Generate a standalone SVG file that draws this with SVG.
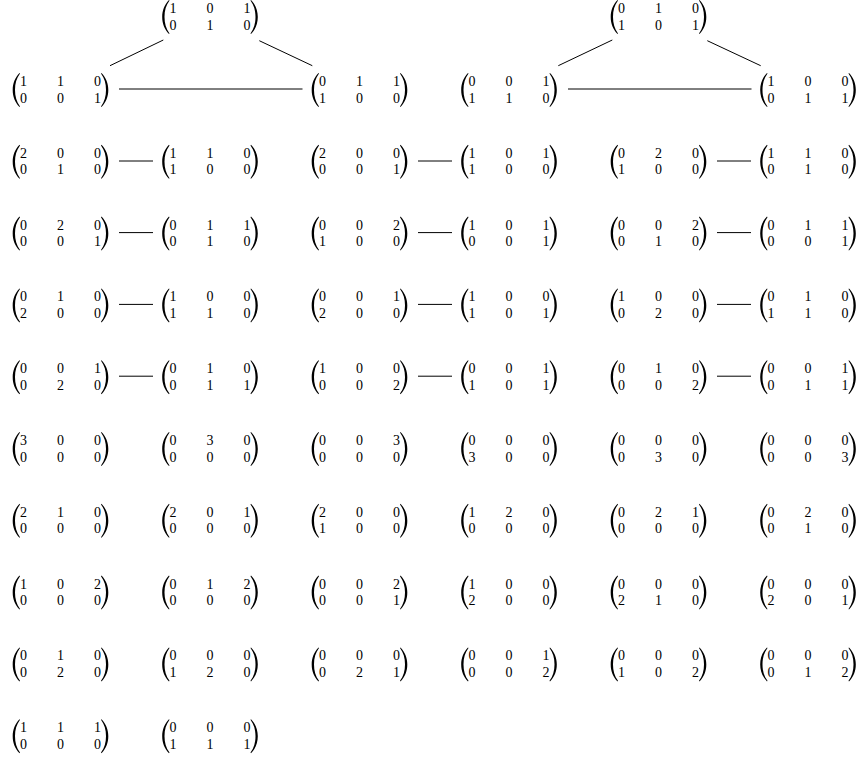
<svg xmlns="http://www.w3.org/2000/svg" xmlns:xlink="http://www.w3.org/1999/xlink" width="860" height="762" viewBox="0 0 860 762">
<style>
text{font-family:"Liberation Serif","Times New Roman",serif;font-size:14px;fill:#000;text-anchor:middle}
.c line{stroke:#000;stroke-width:1}
</style>
<defs>
<path id="lp" d="M7,-17 C2.5,-12.5 0.2,-6.5 0.2,0 C0.2,6.5 2.5,12.5 7,17 L7.5,16.4 C4,11.8 2.5,6.2 2.5,0 C2.5,-6.2 4,-11.8 7.5,-16.4 Z" fill="#000"/>
<g id="pp"><use xlink:href="#lp"/><use xlink:href="#lp" transform="translate(96,0) scale(-1,1)"/></g>
</defs>
<rect width="860" height="762" fill="#fff"/>
<g class="c">
<line x1="163.3" y1="40" x2="110" y2="65.7"/>
<line x1="259.3" y1="40.7" x2="312.3" y2="65.7"/>
<line x1="612.3" y1="40" x2="558.3" y2="65.7"/>
<line x1="707.3" y1="40.7" x2="760.7" y2="65.7"/>
<line x1="119" y1="89" x2="302.5" y2="89"/>
<line x1="568" y1="89" x2="751.5" y2="89"/>
<line x1="119" y1="161" x2="153" y2="161"/>
<line x1="418" y1="161" x2="452" y2="161"/>
<line x1="717" y1="161" x2="751" y2="161"/>
<line x1="119" y1="232.6" x2="153" y2="232.6"/>
<line x1="418" y1="232.6" x2="452" y2="232.6"/>
<line x1="717" y1="232.6" x2="751" y2="232.6"/>
<line x1="119" y1="304.4" x2="153" y2="304.4"/>
<line x1="418" y1="304.4" x2="452" y2="304.4"/>
<line x1="717" y1="304.4" x2="751" y2="304.4"/>
<line x1="119" y1="376.2" x2="153" y2="376.2"/>
<line x1="418" y1="376.2" x2="452" y2="376.2"/>
<line x1="717" y1="376.2" x2="751" y2="376.2"/>
</g>
<g id="t0" transform="translate(162,17)"><use xlink:href="#pp"/><text x="11" y="-4">1</text><text x="48" y="-4">0</text><text x="85" y="-4">1</text><text x="11" y="12.5">0</text><text x="48" y="12.5">1</text><text x="85" y="12.5">0</text></g>
<g id="t1" transform="translate(610.5,17)"><use xlink:href="#pp"/><text x="11" y="-4">0</text><text x="48" y="-4">1</text><text x="85" y="-4">0</text><text x="11" y="12.5">1</text><text x="48" y="12.5">0</text><text x="85" y="12.5">1</text></g>
<g id="r1a" transform="translate(12.5,90)"><use xlink:href="#pp"/><text x="11" y="-4">1</text><text x="48" y="-4">1</text><text x="85" y="-4">0</text><text x="11" y="12.5">0</text><text x="48" y="12.5">0</text><text x="85" y="12.5">1</text></g>
<g id="r1c" transform="translate(311.5,90)"><use xlink:href="#pp"/><text x="11" y="-4">0</text><text x="48" y="-4">1</text><text x="85" y="-4">1</text><text x="11" y="12.5">1</text><text x="48" y="12.5">0</text><text x="85" y="12.5">0</text></g>
<g id="r1d" transform="translate(461,90)"><use xlink:href="#pp"/><text x="11" y="-4">0</text><text x="48" y="-4">0</text><text x="85" y="-4">1</text><text x="11" y="12.5">1</text><text x="48" y="12.5">1</text><text x="85" y="12.5">0</text></g>
<g id="r1f" transform="translate(760,90)"><use xlink:href="#pp"/><text x="11" y="-4">1</text><text x="48" y="-4">0</text><text x="85" y="-4">0</text><text x="11" y="12.5">0</text><text x="48" y="12.5">1</text><text x="85" y="12.5">1</text></g>
<g id="r2a" transform="translate(12.5,161.8)"><use xlink:href="#pp"/><text x="11" y="-4">2</text><text x="48" y="-4">0</text><text x="85" y="-4">0</text><text x="11" y="12.5">0</text><text x="48" y="12.5">1</text><text x="85" y="12.5">0</text></g>
<g id="r2b" transform="translate(162,161.8)"><use xlink:href="#pp"/><text x="11" y="-4">1</text><text x="48" y="-4">1</text><text x="85" y="-4">0</text><text x="11" y="12.5">1</text><text x="48" y="12.5">0</text><text x="85" y="12.5">0</text></g>
<g id="r2c" transform="translate(311.5,161.8)"><use xlink:href="#pp"/><text x="11" y="-4">2</text><text x="48" y="-4">0</text><text x="85" y="-4">0</text><text x="11" y="12.5">0</text><text x="48" y="12.5">0</text><text x="85" y="12.5">1</text></g>
<g id="r2d" transform="translate(461,161.8)"><use xlink:href="#pp"/><text x="11" y="-4">1</text><text x="48" y="-4">0</text><text x="85" y="-4">1</text><text x="11" y="12.5">1</text><text x="48" y="12.5">0</text><text x="85" y="12.5">0</text></g>
<g id="r2e" transform="translate(610.5,161.8)"><use xlink:href="#pp"/><text x="11" y="-4">0</text><text x="48" y="-4">2</text><text x="85" y="-4">0</text><text x="11" y="12.5">1</text><text x="48" y="12.5">0</text><text x="85" y="12.5">0</text></g>
<g id="r2f" transform="translate(760,161.8)"><use xlink:href="#pp"/><text x="11" y="-4">1</text><text x="48" y="-4">1</text><text x="85" y="-4">0</text><text x="11" y="12.5">0</text><text x="48" y="12.5">1</text><text x="85" y="12.5">0</text></g>
<g id="r3a" transform="translate(12.5,233.6)"><use xlink:href="#pp"/><text x="11" y="-4">0</text><text x="48" y="-4">2</text><text x="85" y="-4">0</text><text x="11" y="12.5">0</text><text x="48" y="12.5">0</text><text x="85" y="12.5">1</text></g>
<g id="r3b" transform="translate(162,233.6)"><use xlink:href="#pp"/><text x="11" y="-4">0</text><text x="48" y="-4">1</text><text x="85" y="-4">1</text><text x="11" y="12.5">0</text><text x="48" y="12.5">1</text><text x="85" y="12.5">0</text></g>
<g id="r3c" transform="translate(311.5,233.6)"><use xlink:href="#pp"/><text x="11" y="-4">0</text><text x="48" y="-4">0</text><text x="85" y="-4">2</text><text x="11" y="12.5">1</text><text x="48" y="12.5">0</text><text x="85" y="12.5">0</text></g>
<g id="r3d" transform="translate(461,233.6)"><use xlink:href="#pp"/><text x="11" y="-4">1</text><text x="48" y="-4">0</text><text x="85" y="-4">1</text><text x="11" y="12.5">0</text><text x="48" y="12.5">0</text><text x="85" y="12.5">1</text></g>
<g id="r3e" transform="translate(610.5,233.6)"><use xlink:href="#pp"/><text x="11" y="-4">0</text><text x="48" y="-4">0</text><text x="85" y="-4">2</text><text x="11" y="12.5">0</text><text x="48" y="12.5">1</text><text x="85" y="12.5">0</text></g>
<g id="r3f" transform="translate(760,233.6)"><use xlink:href="#pp"/><text x="11" y="-4">0</text><text x="48" y="-4">1</text><text x="85" y="-4">1</text><text x="11" y="12.5">0</text><text x="48" y="12.5">0</text><text x="85" y="12.5">1</text></g>
<g id="r4a" transform="translate(12.5,305.4)"><use xlink:href="#pp"/><text x="11" y="-4">0</text><text x="48" y="-4">1</text><text x="85" y="-4">0</text><text x="11" y="12.5">2</text><text x="48" y="12.5">0</text><text x="85" y="12.5">0</text></g>
<g id="r4b" transform="translate(162,305.4)"><use xlink:href="#pp"/><text x="11" y="-4">1</text><text x="48" y="-4">0</text><text x="85" y="-4">0</text><text x="11" y="12.5">1</text><text x="48" y="12.5">1</text><text x="85" y="12.5">0</text></g>
<g id="r4c" transform="translate(311.5,305.4)"><use xlink:href="#pp"/><text x="11" y="-4">0</text><text x="48" y="-4">0</text><text x="85" y="-4">1</text><text x="11" y="12.5">2</text><text x="48" y="12.5">0</text><text x="85" y="12.5">0</text></g>
<g id="r4d" transform="translate(461,305.4)"><use xlink:href="#pp"/><text x="11" y="-4">1</text><text x="48" y="-4">0</text><text x="85" y="-4">0</text><text x="11" y="12.5">1</text><text x="48" y="12.5">0</text><text x="85" y="12.5">1</text></g>
<g id="r4e" transform="translate(610.5,305.4)"><use xlink:href="#pp"/><text x="11" y="-4">1</text><text x="48" y="-4">0</text><text x="85" y="-4">0</text><text x="11" y="12.5">0</text><text x="48" y="12.5">2</text><text x="85" y="12.5">0</text></g>
<g id="r4f" transform="translate(760,305.4)"><use xlink:href="#pp"/><text x="11" y="-4">0</text><text x="48" y="-4">1</text><text x="85" y="-4">0</text><text x="11" y="12.5">1</text><text x="48" y="12.5">1</text><text x="85" y="12.5">0</text></g>
<g id="r5a" transform="translate(12.5,377.2)"><use xlink:href="#pp"/><text x="11" y="-4">0</text><text x="48" y="-4">0</text><text x="85" y="-4">1</text><text x="11" y="12.5">0</text><text x="48" y="12.5">2</text><text x="85" y="12.5">0</text></g>
<g id="r5b" transform="translate(162,377.2)"><use xlink:href="#pp"/><text x="11" y="-4">0</text><text x="48" y="-4">1</text><text x="85" y="-4">0</text><text x="11" y="12.5">0</text><text x="48" y="12.5">1</text><text x="85" y="12.5">1</text></g>
<g id="r5c" transform="translate(311.5,377.2)"><use xlink:href="#pp"/><text x="11" y="-4">1</text><text x="48" y="-4">0</text><text x="85" y="-4">0</text><text x="11" y="12.5">0</text><text x="48" y="12.5">0</text><text x="85" y="12.5">2</text></g>
<g id="r5d" transform="translate(461,377.2)"><use xlink:href="#pp"/><text x="11" y="-4">0</text><text x="48" y="-4">0</text><text x="85" y="-4">1</text><text x="11" y="12.5">1</text><text x="48" y="12.5">0</text><text x="85" y="12.5">1</text></g>
<g id="r5e" transform="translate(610.5,377.2)"><use xlink:href="#pp"/><text x="11" y="-4">0</text><text x="48" y="-4">1</text><text x="85" y="-4">0</text><text x="11" y="12.5">0</text><text x="48" y="12.5">0</text><text x="85" y="12.5">2</text></g>
<g id="r5f" transform="translate(760,377.2)"><use xlink:href="#pp"/><text x="11" y="-4">0</text><text x="48" y="-4">0</text><text x="85" y="-4">1</text><text x="11" y="12.5">0</text><text x="48" y="12.5">1</text><text x="85" y="12.5">1</text></g>
<g id="r6a" transform="translate(12.5,449)"><use xlink:href="#pp"/><text x="11" y="-4">3</text><text x="48" y="-4">0</text><text x="85" y="-4">0</text><text x="11" y="12.5">0</text><text x="48" y="12.5">0</text><text x="85" y="12.5">0</text></g>
<g id="r6b" transform="translate(162,449)"><use xlink:href="#pp"/><text x="11" y="-4">0</text><text x="48" y="-4">3</text><text x="85" y="-4">0</text><text x="11" y="12.5">0</text><text x="48" y="12.5">0</text><text x="85" y="12.5">0</text></g>
<g id="r6c" transform="translate(311.5,449)"><use xlink:href="#pp"/><text x="11" y="-4">0</text><text x="48" y="-4">0</text><text x="85" y="-4">3</text><text x="11" y="12.5">0</text><text x="48" y="12.5">0</text><text x="85" y="12.5">0</text></g>
<g id="r6d" transform="translate(461,449)"><use xlink:href="#pp"/><text x="11" y="-4">0</text><text x="48" y="-4">0</text><text x="85" y="-4">0</text><text x="11" y="12.5">3</text><text x="48" y="12.5">0</text><text x="85" y="12.5">0</text></g>
<g id="r6e" transform="translate(610.5,449)"><use xlink:href="#pp"/><text x="11" y="-4">0</text><text x="48" y="-4">0</text><text x="85" y="-4">0</text><text x="11" y="12.5">0</text><text x="48" y="12.5">3</text><text x="85" y="12.5">0</text></g>
<g id="r6f" transform="translate(760,449)"><use xlink:href="#pp"/><text x="11" y="-4">0</text><text x="48" y="-4">0</text><text x="85" y="-4">0</text><text x="11" y="12.5">0</text><text x="48" y="12.5">0</text><text x="85" y="12.5">3</text></g>
<g id="r7a" transform="translate(12.5,520.8)"><use xlink:href="#pp"/><text x="11" y="-4">2</text><text x="48" y="-4">1</text><text x="85" y="-4">0</text><text x="11" y="12.5">0</text><text x="48" y="12.5">0</text><text x="85" y="12.5">0</text></g>
<g id="r7b" transform="translate(162,520.8)"><use xlink:href="#pp"/><text x="11" y="-4">2</text><text x="48" y="-4">0</text><text x="85" y="-4">1</text><text x="11" y="12.5">0</text><text x="48" y="12.5">0</text><text x="85" y="12.5">0</text></g>
<g id="r7c" transform="translate(311.5,520.8)"><use xlink:href="#pp"/><text x="11" y="-4">2</text><text x="48" y="-4">0</text><text x="85" y="-4">0</text><text x="11" y="12.5">1</text><text x="48" y="12.5">0</text><text x="85" y="12.5">0</text></g>
<g id="r7d" transform="translate(461,520.8)"><use xlink:href="#pp"/><text x="11" y="-4">1</text><text x="48" y="-4">2</text><text x="85" y="-4">0</text><text x="11" y="12.5">0</text><text x="48" y="12.5">0</text><text x="85" y="12.5">0</text></g>
<g id="r7e" transform="translate(610.5,520.8)"><use xlink:href="#pp"/><text x="11" y="-4">0</text><text x="48" y="-4">2</text><text x="85" y="-4">1</text><text x="11" y="12.5">0</text><text x="48" y="12.5">0</text><text x="85" y="12.5">0</text></g>
<g id="r7f" transform="translate(760,520.8)"><use xlink:href="#pp"/><text x="11" y="-4">0</text><text x="48" y="-4">2</text><text x="85" y="-4">0</text><text x="11" y="12.5">0</text><text x="48" y="12.5">1</text><text x="85" y="12.5">0</text></g>
<g id="r8a" transform="translate(12.5,592.6)"><use xlink:href="#pp"/><text x="11" y="-4">1</text><text x="48" y="-4">0</text><text x="85" y="-4">2</text><text x="11" y="12.5">0</text><text x="48" y="12.5">0</text><text x="85" y="12.5">0</text></g>
<g id="r8b" transform="translate(162,592.6)"><use xlink:href="#pp"/><text x="11" y="-4">0</text><text x="48" y="-4">1</text><text x="85" y="-4">2</text><text x="11" y="12.5">0</text><text x="48" y="12.5">0</text><text x="85" y="12.5">0</text></g>
<g id="r8c" transform="translate(311.5,592.6)"><use xlink:href="#pp"/><text x="11" y="-4">0</text><text x="48" y="-4">0</text><text x="85" y="-4">2</text><text x="11" y="12.5">0</text><text x="48" y="12.5">0</text><text x="85" y="12.5">1</text></g>
<g id="r8d" transform="translate(461,592.6)"><use xlink:href="#pp"/><text x="11" y="-4">1</text><text x="48" y="-4">0</text><text x="85" y="-4">0</text><text x="11" y="12.5">2</text><text x="48" y="12.5">0</text><text x="85" y="12.5">0</text></g>
<g id="r8e" transform="translate(610.5,592.6)"><use xlink:href="#pp"/><text x="11" y="-4">0</text><text x="48" y="-4">0</text><text x="85" y="-4">0</text><text x="11" y="12.5">2</text><text x="48" y="12.5">1</text><text x="85" y="12.5">0</text></g>
<g id="r8f" transform="translate(760,592.6)"><use xlink:href="#pp"/><text x="11" y="-4">0</text><text x="48" y="-4">0</text><text x="85" y="-4">0</text><text x="11" y="12.5">2</text><text x="48" y="12.5">0</text><text x="85" y="12.5">1</text></g>
<g id="r9a" transform="translate(12.5,664.4)"><use xlink:href="#pp"/><text x="11" y="-4">0</text><text x="48" y="-4">1</text><text x="85" y="-4">0</text><text x="11" y="12.5">0</text><text x="48" y="12.5">2</text><text x="85" y="12.5">0</text></g>
<g id="r9b" transform="translate(162,664.4)"><use xlink:href="#pp"/><text x="11" y="-4">0</text><text x="48" y="-4">0</text><text x="85" y="-4">0</text><text x="11" y="12.5">1</text><text x="48" y="12.5">2</text><text x="85" y="12.5">0</text></g>
<g id="r9c" transform="translate(311.5,664.4)"><use xlink:href="#pp"/><text x="11" y="-4">0</text><text x="48" y="-4">0</text><text x="85" y="-4">0</text><text x="11" y="12.5">0</text><text x="48" y="12.5">2</text><text x="85" y="12.5">1</text></g>
<g id="r9d" transform="translate(461,664.4)"><use xlink:href="#pp"/><text x="11" y="-4">0</text><text x="48" y="-4">0</text><text x="85" y="-4">1</text><text x="11" y="12.5">0</text><text x="48" y="12.5">0</text><text x="85" y="12.5">2</text></g>
<g id="r9e" transform="translate(610.5,664.4)"><use xlink:href="#pp"/><text x="11" y="-4">0</text><text x="48" y="-4">0</text><text x="85" y="-4">0</text><text x="11" y="12.5">1</text><text x="48" y="12.5">0</text><text x="85" y="12.5">2</text></g>
<g id="r9f" transform="translate(760,664.4)"><use xlink:href="#pp"/><text x="11" y="-4">0</text><text x="48" y="-4">0</text><text x="85" y="-4">0</text><text x="11" y="12.5">0</text><text x="48" y="12.5">1</text><text x="85" y="12.5">2</text></g>
<g id="r10a" transform="translate(12.5,736.2)"><use xlink:href="#pp"/><text x="11" y="-4">1</text><text x="48" y="-4">1</text><text x="85" y="-4">1</text><text x="11" y="12.5">0</text><text x="48" y="12.5">0</text><text x="85" y="12.5">0</text></g>
<g id="r10b" transform="translate(162,736.2)"><use xlink:href="#pp"/><text x="11" y="-4">0</text><text x="48" y="-4">0</text><text x="85" y="-4">0</text><text x="11" y="12.5">1</text><text x="48" y="12.5">1</text><text x="85" y="12.5">1</text></g>
</svg>
